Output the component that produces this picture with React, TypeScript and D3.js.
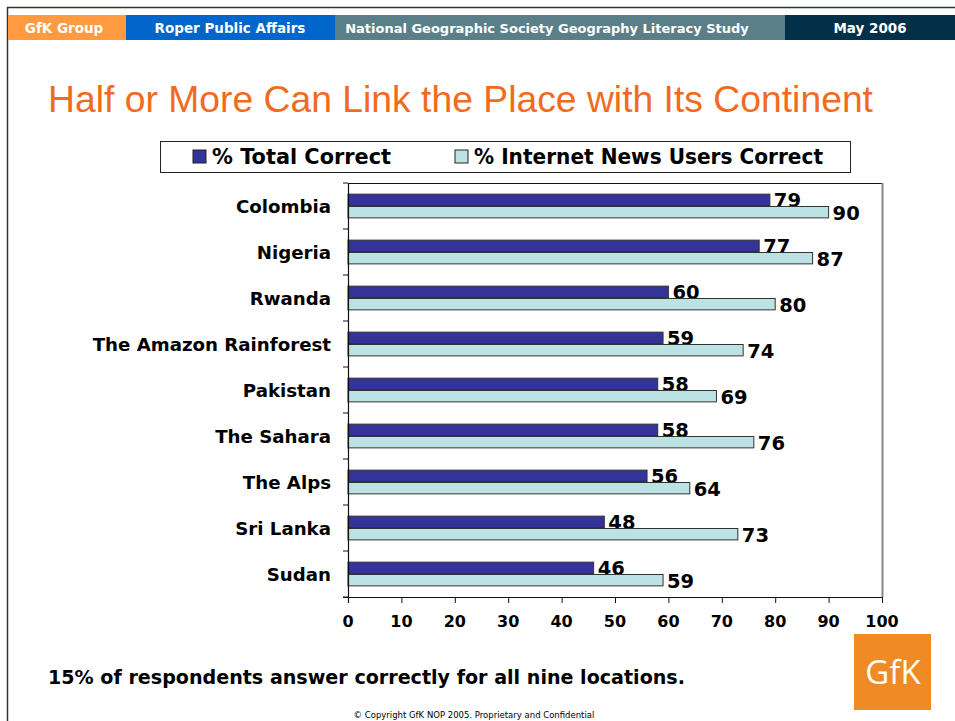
import React from "react";
import * as d3 from "d3";

const categories = ["Colombia", "Nigeria", "Rwanda", "The Amazon Rainforest", "Pakistan", "The Sahara", "The Alps", "Sri Lanka", "Sudan"];
const totalCorrect = [79, 77, 60, 59, 58, 58, 56, 48, 46];
const internetCorrect = [90, 87, 80, 74, 69, 76, 64, 73, 59];
const seriesNames = ["% Total Correct", "% Internet News Users Correct"];
const xTicks = [0, 10, 20, 30, 40, 50, 60, 70, 80, 90, 100];
const headerLabels = ["GfK Group", "Roper Public Affairs", "National Geographic Society Geography Literacy Study", "May 2006"];

const W = 955, H = 721;
const BOLD = "Tahoma, 'DejaVu Sans', Verdana, sans-serif";

export default function App() {
  const plot = { left: 348, right: 882, top: 183, bottom: 597 };
  const x = d3.scaleLinear().domain([0, 100]).range([plot.left, plot.right]);
  const y = d3.scaleBand().domain(categories).range([plot.top, plot.bottom]).paddingInner(0).paddingOuter(0);
  const inner = d3.scaleBand().domain(["a", "b"]).range([0, y.bandwidth()]).paddingOuter(0.9).paddingInner(0.08);
  const series = [
    { key: "a", values: totalCorrect, fill: "#333399" },
    { key: "b", values: internetCorrect, fill: "#BCE2E4" },
  ];
  const headers = [
    { x0: 8, x1: 126, fill: "#FF9A40", size: 13.5, tx: 64 },
    { x0: 126, x1: 335, fill: "#0066CC", size: 13.5, tx: 230 },
    { x0: 335, x1: 785, fill: "#5B7F88", size: 13, tx: 547 },
    { x0: 785, x1: 955, fill: "#023049", size: 13.5, tx: 870 },
  ];
  return (
    <svg width={W} height={H} style={{ position: "absolute", left: 0, top: 0 }}>
      <rect x={0} y={0} width={W} height={H} fill="#fff" />
      {/* slide frame */}
      <line x1={7} y1={7.5} x2={W} y2={7.5} stroke="#333" strokeWidth={1.5} />
      <line x1={7.5} y1={7} x2={7.5} y2={H} stroke="#333" strokeWidth={1.5} />
      {headers.map((h, i) => (
        <g key={i}>
          <rect x={h.x0} y={15} width={h.x1 - h.x0} height={25} fill={h.fill} />
          <text x={h.tx} y={33} textAnchor="middle" fill="#fff" fontFamily={BOLD} fontWeight="bold" fontSize={h.size}>
            {headerLabels[i]}
          </text>
        </g>
      ))}
      <text x={48} y={112} fill="#F26B1D" fontFamily="'Liberation Sans', Arial, sans-serif" fontSize={36.5} textLength={825} lengthAdjust="spacingAndGlyphs">
        Half or More Can Link the Place with Its Continent
      </text>
      {/* legend */}
      <rect x={160.5} y={141.5} width={690} height={31} fill="#fff" stroke="#222" strokeWidth={1} />
      <rect x={193} y={150} width={13} height={13} fill="#333399" stroke="#222" strokeWidth={1} />
      <text x={212} y={164} fontFamily={BOLD} fontWeight="bold" fontSize={21} textLength={179} lengthAdjust="spacingAndGlyphs">{seriesNames[0]}</text>
      <rect x={455} y={150} width={13} height={13} fill="#BCE2E4" stroke="#222" strokeWidth={1} />
      <text x={474} y={164} fontFamily={BOLD} fontWeight="bold" fontSize={21} textLength={349} lengthAdjust="spacingAndGlyphs">{seriesNames[1]}</text>
      {/* plot frame */}
      <line x1={plot.left} y1={plot.top + 0.5} x2={plot.right} y2={plot.top + 0.5} stroke="#111" strokeWidth={1.2} />
      <line x1={plot.right + 0.5} y1={plot.top} x2={plot.right + 0.5} y2={plot.bottom} stroke="#888" strokeWidth={2} />
      {/* bars */}
      {categories.map((c, i) => (
        <g key={c}>
          {series.map((s) => {
            const by = (y(c) as number) + (inner(s.key) as number);
            const bh = inner.bandwidth();
            return (
              <g key={s.key}>
                <rect x={x(0)} y={by} width={x(s.values[i]) - x(0)} height={bh} fill={s.fill} stroke="#333" strokeWidth={1} />
                <text x={x(s.values[i]) + 4} y={by + bh / 2 + 7.5} fontFamily={BOLD} fontWeight="bold" fontSize={19.5} fill="#000">
                  {s.values[i]}
                </text>
              </g>
            );
          })}
          <text x={331} y={(y(c) as number) + y.bandwidth() / 2 + 7} textAnchor="end" fontFamily={BOLD} fontWeight="bold" fontSize={18.2}>
            {c}
          </text>
        </g>
      ))}
      {/* y axis */}
      <line x1={plot.left + 0.5} y1={plot.top} x2={plot.left + 0.5} y2={plot.bottom + 6} stroke="#111" strokeWidth={1.2} />
      {categories.map((c) => (
        <line key={c} x1={plot.left - 5} x2={plot.left} y1={y(c) as number} y2={y(c) as number} stroke="#111" />
      ))}
      <line x1={plot.left - 5} x2={plot.left} y1={plot.bottom} y2={plot.bottom} stroke="#111" />
      {/* x axis */}
      <line x1={plot.left - 5} y1={plot.bottom + 0.5} x2={plot.right} y2={plot.bottom + 0.5} stroke="#111" strokeWidth={1.2} />
      {xTicks.map((t) => (
        <g key={t}>
          <line x1={x(t) + 0.5} x2={x(t) + 0.5} y1={plot.bottom} y2={plot.bottom + 6} stroke="#111" />
          <text x={x(t)} y={627} textAnchor="middle" fontFamily={BOLD} fontWeight="bold" fontSize={16}>{t}</text>
        </g>
      ))}
      <text x={48} y={684} fontFamily={BOLD} fontWeight="bold" fontSize={19.1}>
        15% of respondents answer correctly for all nine locations.
      </text>
      <text x={474} y={718} textAnchor="middle" fontFamily={BOLD} fontSize={8.5}>
        © Copyright GfK NOP 2005.  Proprietary and Confidential
      </text>
      <rect x={854} y={634} width={77} height={76} fill="#F08A24" />
      <text x={893} y={684} textAnchor="middle" fill="#fff" fontFamily="'Open Sans', 'DejaVu Sans', sans-serif" fontSize={33}>GfK</text>
    </svg>
  );
}
